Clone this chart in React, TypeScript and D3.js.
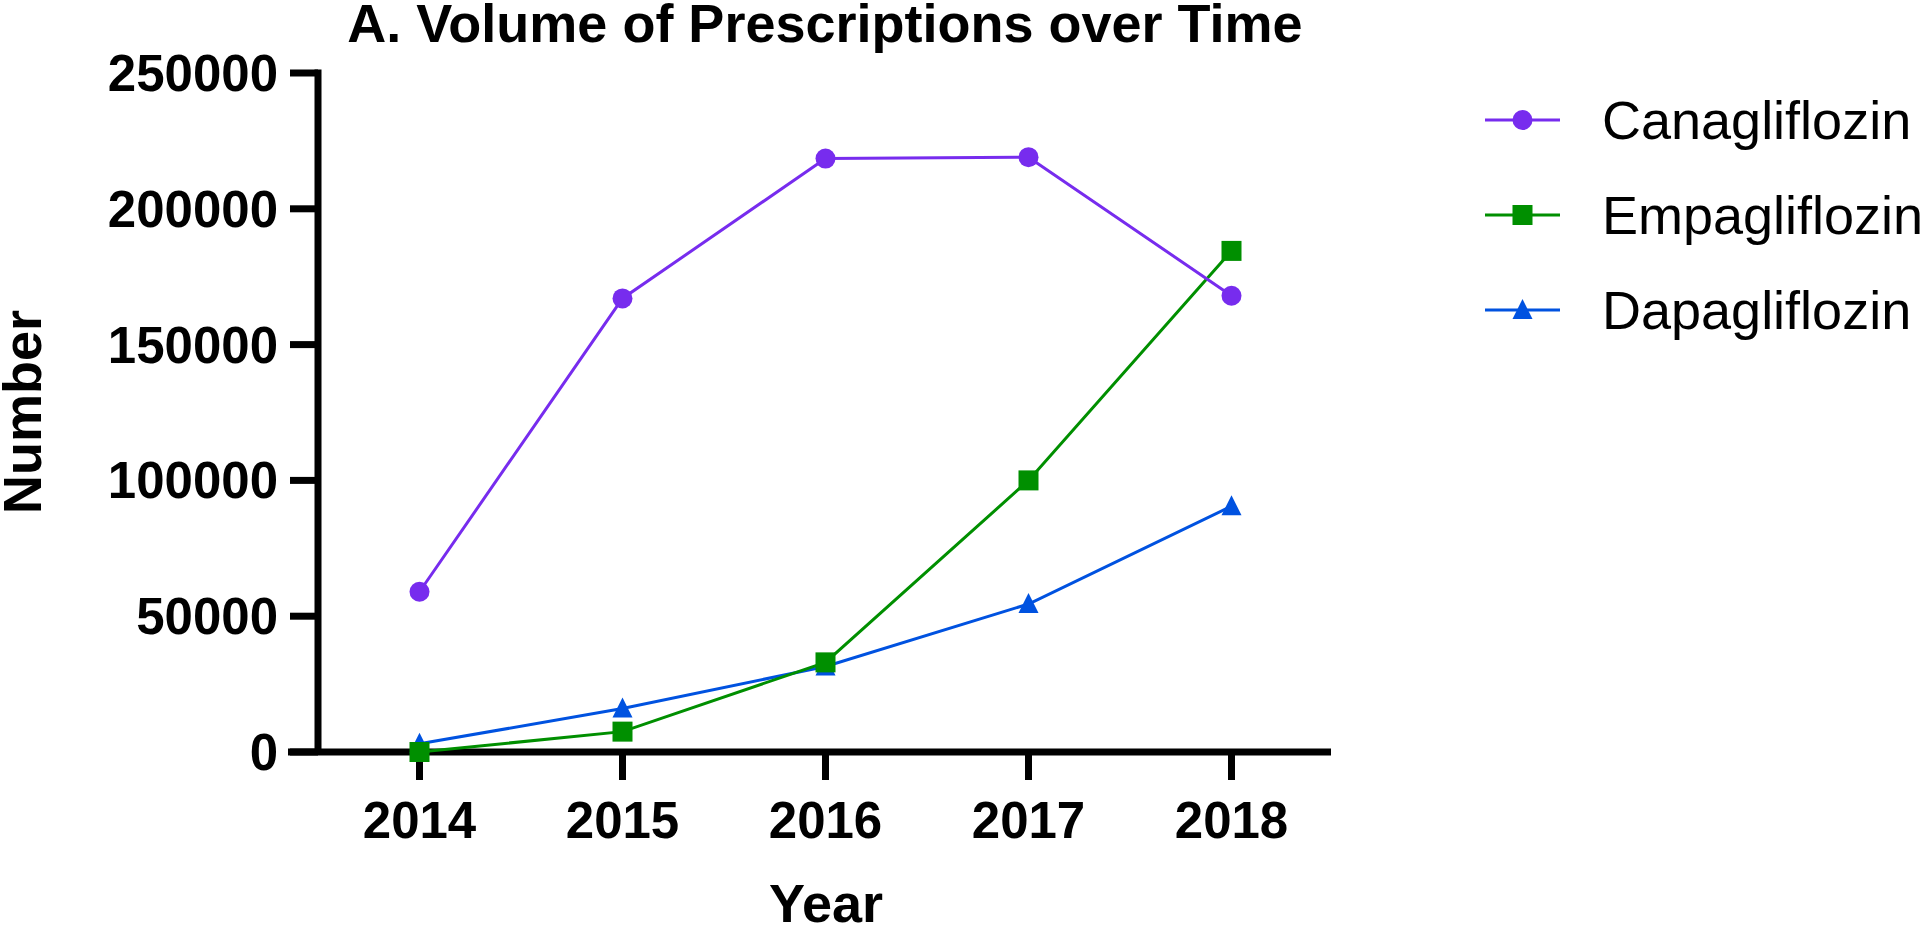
import React from "react";
import * as d3 from "d3";

const years = [2014, 2015, 2016, 2017, 2018];
const canagliflozin = [59000, 167000, 218500, 219000, 168000];
const empagliflozin = [0, 7500, 33000, 100000, 184500];
const dapagliflozin = [3000, 16000, 31500, 54500, 90500];
const yTicks = [0, 50000, 100000, 150000, 200000, 250000];
const seriesNames = ["Canagliflozin", "Empagliflozin", "Dapagliflozin"];
const seriesColors = ["#772CEE", "#008F00", "#0052E0"];
const seriesShapes = ["circle", "square", "triangle"];
const seriesValues = [canagliflozin, empagliflozin, dapagliflozin];

const FONT = "'Liberation Sans', Arial, Helvetica, sans-serif";

function Marker({ shape, x, y, color }: { shape: string; x: number; y: number; color: string }) {
  if (shape === "circle") return <circle cx={x} cy={y} r={10} fill={color} />;
  if (shape === "square") return <rect x={x - 10} y={y - 10} width={20} height={20} fill={color} />;
  return <path d={`M${x},${y - 11}L${x + 10},${y + 9}L${x - 10},${y + 9}Z`} fill={color} />;
}

export default function App() {
  const x = d3.scaleLinear().domain([2013.5, 2018.5]).range([318, 1333]);
  const y = d3.scaleLinear().domain([0, 250000]).range([752, 73]);
  const line = d3
    .line<[number, number]>()
    .x((d) => x(d[0]))
    .y((d) => y(d[1]));

  const order = [2, 1, 0];

  return (
    <svg
      width={1920}
      height={927}
      style={{ position: "absolute", left: 0, top: 0, background: "#fff" }}
      fontFamily={FONT}
    >
      <rect width={1920} height={927} fill="#fff" />
      {/* Title */}
      <text x={825} y={42} textAnchor="middle" fontSize={54} fontWeight="bold">
        A. Volume of Prescriptions over Time
      </text>
      {/* Axes */}
      <path
        d={`M${x.range()[0]},${y(250000) - 3.5}V${y(0)}`}
        stroke="#000"
        strokeWidth={7}
        fill="none"
      />
      <path d={`M288,${y(0)}H1331`} stroke="#000" strokeWidth={7} fill="none" />
      {yTicks.map((t) => (
        <g key={t}>
          <line x1={290} x2={318} y1={y(t)} y2={y(t)} stroke="#000" strokeWidth={7} />
          <text x={278} y={y(t) + 18} textAnchor="end" fontSize={51} fontWeight="bold">
            {t}
          </text>
        </g>
      ))}
      {years.map((yr) => (
        <g key={yr}>
          <line x1={x(yr)} x2={x(yr)} y1={y(0)} y2={y(0) + 28} stroke="#000" strokeWidth={7} />
          <text x={x(yr)} y={838} textAnchor="middle" fontSize={51} fontWeight="bold">
            {yr}
          </text>
        </g>
      ))}
      <text x={826} y={922} textAnchor="middle" fontSize={54} fontWeight="bold">
        Year
      </text>
      <text
        transform={`translate(41,412) rotate(-90)`}
        textAnchor="middle"
        fontSize={54}
        fontWeight="bold"
      >
        Number
      </text>
      {/* Series */}
      {order.map((i) => {
        const pts = years.map((yr, j) => [yr, seriesValues[i][j]] as [number, number]);
        return (
          <g key={seriesNames[i]}>
            <path d={line(pts) || ""} stroke={seriesColors[i]} strokeWidth={3} fill="none" />
            {pts.map((p, j) => (
              <Marker key={j} shape={seriesShapes[i]} x={x(p[0])} y={y(p[1])} color={seriesColors[i]} />
            ))}
          </g>
        );
      })}
      {/* Legend */}
      {seriesNames.map((name, i) => {
        const cy = 120 + i * 95;
        return (
          <g key={name}>
            <line x1={1485} x2={1560} y1={cy} y2={cy} stroke={seriesColors[i]} strokeWidth={3} />
            <Marker shape={seriesShapes[i]} x={1522.5} y={cy} color={seriesColors[i]} />
            <text x={1602} y={cy + 19} fontSize={54}>
              {name}
            </text>
          </g>
        );
      })}
    </svg>
  );
}
